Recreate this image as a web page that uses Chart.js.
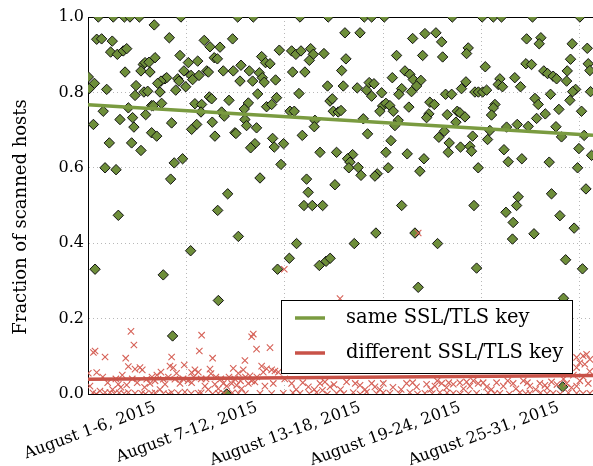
<!DOCTYPE html>
<html>
<head>
<meta charset="utf-8">
<script src="https://cdn.jsdelivr.net/npm/chart.js@4.4.1/dist/chart.umd.min.js"></script>
<style>
	body { margin: 0; background: #fff; }
	#wrap { width: 593px; height: 466px; }
</style>
</head>
<body>
<div id="wrap"><canvas id="myChart" width="593" height="466"></canvas></div>
<script>

// [day of August (0 = start of Aug 1), fraction]
const same_key_points = [
	[0.63,1.0],[1.54,1.0],[2.22,1.0],[2.56,1.0],[3.13,1.0],[5.67,1.0],
	[4.04,0.979],[0.53,0.941],[0.83,0.942],[1.48,0.936],[4.96,0.945],[7.09,0.938],[7.44,0.921],[8.05,0.92],[8.82,0.942],
	[1.38,0.907],[1.79,0.901],[2.15,0.91],[2.36,0.916],[5.61,0.898],[4.09,0.892],[3.37,0.874],[3.48,0.879],[3.72,0.88],[6.12,0.879],[6.69,0.883],[7.7,0.892],[7.89,0.889],
	[2.26,0.854],[3.23,0.857],[3.78,0.854],[5.85,0.857],[0.02,0.841],[4.7,0.836],[4.8,0.839],[4.45,0.83],[5.47,0.836],[5.55,0.83],[6.28,0.845],[6.38,0.834],[6.77,0.845],[7.24,0.857],[7.34,0.854],[8.25,0.857],[8.86,0.857],
	[0.39,0.824],[2.93,0.818],[4.25,0.824],[5.96,0.815],[0.08,0.81],[1.14,0.808],[3.41,0.801],[3.64,0.803],[4.39,0.801],[5.35,0.806],[2.87,0.792],[7.4,0.788],[7.54,0.783],
	[6.52,0.77],[6.93,0.768],[4.49,0.771],[3.88,0.765],[3.98,0.765],[8.6,0.779],[0.93,0.75],[2.46,0.759],[3.52,0.741],[2.72,0.733],[6.89,0.748],[8.15,0.748],[8.31,0.737],
	[1.95,0.728],[5.1,0.719],[0.33,0.715],[2.8,0.708],[6.63,0.715],[6.32,0.702],[7.58,0.721],[3.88,0.693],[4.19,0.684],[7.74,0.684],[8.96,0.693],
	[1.3,0.666],[2.66,0.666],[3.23,0.646],[1.04,0.6],[1.71,0.595],[5.26,0.613],[5.77,0.624],[5.04,0.57],[8.52,0.531],
	[9.13,1.0],[10.08,1.0],[12.93,1.0],[14.65,1.0],[16.85,1.0],[17.3,1.0],[18.07,1.0],
	[15.67,0.958],[16.59,0.958],[11.67,0.912],[12.42,0.91],[12.68,0.901],[12.99,0.91],[13.58,0.916],[13.74,0.901],[13.5,0.885],[14.39,0.903],[10.59,0.895],[10.83,0.879],[11.1,0.876],[15.73,0.889],[18.82,0.898],[9.33,0.872],
	[9.84,0.857],[10.45,0.852],[10.63,0.839],[10.75,0.827],[10.04,0.83],[9.27,0.83],[11.44,0.833],[12.48,0.854],[13.23,0.854],[15.47,0.858],[18.56,0.839],[19.33,0.857],
	[14.61,0.817],[15.57,0.817],[16.42,0.812],[16.99,0.806],[17.15,0.826],[17.44,0.823],[17.3,0.79],[17.91,0.799],[10.35,0.796],[12.87,0.797],[19.13,0.81],[18.96,0.795],
	[9.78,0.772],[9.53,0.756],[10.89,0.762],[11.2,0.768],[11.5,0.786],[12.32,0.75],[12.58,0.75],[14.76,0.777],[14.9,0.783],[14.96,0.75],[15.26,0.748],[15.43,0.752],[17.97,0.764],[18.17,0.771],[18.41,0.765],[17.8,0.75],[18.62,0.75],
	[9.57,0.728],[9.67,0.712],[10.28,0.706],[13.84,0.726],[13.8,0.709],[16.79,0.73],[18.92,0.726],[18.72,0.712],[9.02,0.691],[13.07,0.686],[17.05,0.69],
	[11.26,0.678],[11.36,0.655],[10.18,0.664],[9.92,0.653],[11.93,0.664],[18.48,0.672],[14.15,0.641],[15.16,0.641],[16.14,0.635],[15.83,0.624],[15.98,0.615],[18.17,0.641],[11.77,0.609],
	[15.91,0.6],[16.48,0.601],[16.65,0.58],[18.31,0.6],[17.64,0.584],[17.5,0.578],[10.49,0.573],[13.33,0.57],[13.43,0.535],[15.06,0.555],
	[22.22,1.0],[24.04,1.0],[24.72,1.0],[25.22,1.0],[27.11,1.0],[30.0,1.0],
	[19.8,0.943],[20.55,0.956],[21.22,0.958],[21.57,0.934],[20.41,0.898],[21.63,0.894],[23.19,0.918],[23.09,0.903],[26.75,0.942],[27.62,0.945],[27.52,0.929],[29.53,0.929],[30.45,0.917],[29.43,0.888],
	[24.23,0.868],[26.71,0.876],[27.05,0.874],[30.51,0.876],[30.61,0.858],[19.63,0.848],[19.84,0.834],[20.3,0.832],[20.04,0.817],[19.73,0.802],[23.05,0.828],[22.78,0.81],[25.12,0.836],[25.02,0.821],[25.28,0.815],[26.03,0.839],[26.38,0.815],
	[27.8,0.857],[28.03,0.85],[28.37,0.843],[28.58,0.836],[29.23,0.857],[29.19,0.83],[21.81,0.795],[22.18,0.795],[23.6,0.801],[23.81,0.801],[24.07,0.801],[24.31,0.806],[27.26,0.784],[27.46,0.768],[28.21,0.795],[29.74,0.808],[29.56,0.802],[29.39,0.779],[30.65,0.802],
	[19.57,0.761],[20.85,0.774],[21.12,0.768],[20.79,0.743],[20.65,0.733],[21.91,0.741],[22.52,0.75],[22.68,0.746],[22.99,0.735],[24.82,0.768],[24.72,0.759],[24.61,0.74],[27.89,0.743],[27.36,0.731],[28.72,0.755],[30.1,0.75],
	[22.44,0.721],[26.18,0.715],[26.85,0.71],[25.53,0.708],[24.51,0.699],[28.54,0.709],[21.73,0.697],[21.4,0.681],[23.46,0.684],[28.88,0.682],[30.26,0.686],
	[22.03,0.666],[22.72,0.655],[23.29,0.657],[23.39,0.644],[21.97,0.641],[24.37,0.675],[25.37,0.648],[29.94,0.651],[19.47,0.637],[20.49,0.624],[25.63,0.616],[26.46,0.624],[28.13,0.615],[30.71,0.633],
	[20.24,0.591],[23.8,0.6],[29.86,0.6],[30.37,0.544],[26.24,0.523],[28.27,0.531],
	[1.85,0.474],[7.91,0.487],[0.43,0.331],[4.59,0.316],[6.26,0.38],[7.95,0.248],[5.16,0.154],[8.46,0.0],
	[13.17,0.5],[13.68,0.5],[14.31,0.5],[19.13,0.5],[9.17,0.418],[12.72,0.399],[16.24,0.399],[17.56,0.427],[12.28,0.36],[11.56,0.331],[14.11,0.341],[14.52,0.352],[14.77,0.36],
	[23.54,0.5],[25.49,0.482],[26.14,0.5],[25.93,0.455],[28.78,0.473],[29.65,0.44],[19.94,0.427],[21.32,0.399],[25.89,0.411],[27.2,0.425],[29.13,0.356],[30.16,0.332],[23.7,0.334],[20.14,0.283],[29.0,0.254],[28.95,0.019]
];

const diff_key_points = [
	[2.62,0.166],[2.8,0.13],[0.43,0.114],[0.33,0.11],[1.04,0.098],[2.3,0.095],[6.93,0.156],[9.98,0.152],[6.79,0.114],[7.6,0.095],[5.1,0.098],[9.57,0.089],
	[0.53,0.057],[0.02,0.055],[2.46,0.073],[2.87,0.066],[3.17,0.07],[3.31,0.064],[2.09,0.05],[4.45,0.058],[5.0,0.074],[5.2,0.07],[5.87,0.077],[6.52,0.064],[6.32,0.057],[6.73,0.058],[7.44,0.066],[7.5,0.054],[8.86,0.068],[9.47,0.064],[9.17,0.055],
	[3.58,0.039],[3.78,0.028],[4.09,0.035],[4.59,0.039],[4.7,0.026],[4.39,0.012],[5.3,0.039],[5.61,0.028],[6.32,0.03],[1.85,0.026],[2.36,0.024],[0.12,0.021],[7.13,0.021],[7.74,0.026],[7.95,0.014],[8.25,0.028],[8.46,0.021],[8.76,0.028],[9.07,0.023],[9.37,0.014],[9.78,0.028],[9.98,0.035],
	[0.73,0.008],[1.34,0.004],[1.04,0.004],[2.46,0.004],[2.87,0.002],[3.27,0.002],[3.88,0.002],[5.1,0.004],[5.51,0.002],[5.91,0.005],[6.73,0.002],[7.34,0.012],[7.95,0.002],[9.17,0.002],
	[0.9,0.045],[1.2,0.03],[1.5,0.012],[1.7,0.04],[2.0,0.018],[2.7,0.04],[3.0,0.03],[3.45,0.018],[3.9,0.045],[4.2,0.05],[4.9,0.045],[5.4,0.055],[5.8,0.04],[6.1,0.035],[6.45,0.045],[6.9,0.04],[7.2,0.04],[7.8,0.045],[8.1,0.04],[8.6,0.045],[8.95,0.04],[9.3,0.035],[9.6,0.045],
	[0.3,0.003],[0.5,0.0],[1.6,0.001],[1.9,0.003],[2.2,0.001],[3.5,0.0],[4.1,0.003],[4.6,0.001],[4.9,0.0],[6.3,0.001],[6.9,0.003],[7.6,0.0],[8.3,0.001],[8.8,0.003],[9.6,0.001],
	[10.08,0.159],[10.28,0.119],[11.1,0.123],[10.59,0.074],[10.89,0.067],[11.2,0.064],[11.4,0.061],[11.61,0.058],[10.69,0.058],[9.88,0.048],[10.18,0.032],[11.3,0.028],[10.79,0.021],[12.42,0.028],[13.44,0.019],[14.15,0.028],[14.45,0.032],[14.76,0.019],[15.77,0.032],[16.59,0.023],[17.3,0.028],[17.5,0.019],[18.01,0.028],[19.43,0.028],[20.04,0.019],
	[10.49,0.002],[11.91,0.002],[12.93,0.002],[13.94,0.004],[15.16,0.002],[16.18,0.004],[16.99,0.005],[18.41,0.002],[19.63,0.004],[15.37,0.253],[11.97,0.331],[20.14,0.427],
	[10.3,0.045],[12.0,0.04],[12.7,0.012],[13.1,0.03],[13.8,0.012],[14.3,0.01],[15.0,0.025],[15.4,0.012],[16.3,0.028],[16.9,0.012],[17.8,0.012],[18.6,0.018],[19.1,0.012],[19.8,0.03],
	[11.2,0.001],[12.5,0.003],[13.5,0.001],[14.6,0.0],[15.6,0.001],[16.6,0.0],[17.6,0.001],[18.0,0.003],[19.0,0.001],[20.1,0.0],
	[29.8,0.097],[30.2,0.101],[30.41,0.105],[30.0,0.083],[30.61,0.092],[29.8,0.07],[30.3,0.079],
	[20.65,0.026],[21.16,0.021],[21.57,0.028],[21.87,0.017],[22.28,0.026],[22.68,0.03],[23.09,0.032],[23.29,0.021],[23.8,0.028],[24.31,0.019],[24.92,0.03],[25.33,0.021],[25.93,0.028],[26.55,0.035],[26.95,0.021],[27.56,0.028],[27.87,0.023],[28.27,0.032],[29.19,0.028],[29.49,0.017],[30.0,0.035],[30.51,0.028],[29.8,0.021],
	[20.55,0.002],[21.46,0.004],[22.28,0.002],[23.7,0.002],[25.12,0.002],[26.34,0.004],[26.95,0.002],[28.37,0.002],[29.8,0.002],[30.61,0.002],
	[20.9,0.012],[21.3,0.035],[22.0,0.03],[22.9,0.014],[23.5,0.035],[24.1,0.03],[24.6,0.012],[25.6,0.035],[26.1,0.014],[26.8,0.03],[27.3,0.012],[28.0,0.016],[28.6,0.025],[29.0,0.04],[30.2,0.045],[30.6,0.06],[29.6,0.05],
	[21.0,0.001],[21.9,0.003],[22.7,0.0],[23.2,0.001],[24.4,0.003],[24.8,0.001],[25.7,0.0],[26.7,0.001],[27.6,0.003],[28.0,0.001],[28.8,0.0],[29.3,0.003],[30.2,0.001]
];

// linear fits, ends of the visible range
const trend_days = [0, 30.8];
const same_trend = [0.767, 0.686];
const diff_trend = [0.039, 0.049];

const grid_days = [6, 12, 18, 24, 30];
const label_days = [4.1, 10.3, 16.6, 22.7, 28.7];
const tick_labels = ['August 1-6, 2015', 'August 7-12, 2015', 'August 13-18, 2015', 'August 19-24, 2015', 'August 25-31, 2015'];
const y_ticks = [0, 0.2, 0.4, 0.6, 0.8, 1.0];

const series_names = ['same SSL/TLS key', 'different SSL/TLS key'];
const y_title = 'Fraction of scanned hosts';


function toXY(points)
{
	return points.map((item) => ({'x': item[0], 'y': item[1]}));
}


function trendXY(values)
{
	return trend_days.map((day, i) => ({'x': day, 'y': values[i]}));
}


// matplotlib style legend box in the lower right of the axes
const box_legend = {
	id: 'boxLegend',
	afterDraw(chart)
	{
		const ctx = chart.ctx;
		const area = chart.chartArea;
		const items = chart.data.datasets.filter((d) => d.inBox);

		const box_w = 291;
		const box_h = 73;
		const left = area.right - 21 - box_w;
		const top = area.bottom - 21 - box_h;

		ctx.save();
		ctx.fillStyle = '#ffffff';
		ctx.fillRect(left, top, box_w, box_h);
		ctx.strokeStyle = '#000000';
		ctx.lineWidth = 1;
		ctx.strokeRect(left + 0.5, top + 0.5, box_w, box_h);

		items.forEach((item, i) =>
		{
			const y = top + 18 + i * 35;
			ctx.strokeStyle = item.borderColor;
			ctx.lineWidth = item.borderWidth;
			ctx.beginPath();
			ctx.moveTo(left + 14, y);
			ctx.lineTo(left + 44, y);
			ctx.stroke();

			ctx.fillStyle = '#000000';
			ctx.font = '19.5px "DejaVu Serif"';
			ctx.textBaseline = 'middle';
			ctx.textAlign = 'left';
			ctx.fillText(item.label, left + 65, y);
		});
		ctx.restore();
	}
};


window.onload = function()
{
	Chart.defaults.font.family = '"DejaVu Serif", serif';
	Chart.defaults.color = '#000000';

	const canvas = document.getElementById('myChart').getContext('2d');
	const x_max = 30.8;
	const grid_color = '#b8b8b8';

	new Chart(canvas, {
		type: 'scatter',
		data: {
			datasets: [
				{
					label: series_names[0],
					inBox: true,
					data: trendXY(same_trend),
					showLine: true,
					borderColor: 'rgb(122,155,64)',
					borderWidth: 3.5,
					pointRadius: 0,
				},
				{
					label: series_names[1],
					inBox: true,
					data: trendXY(diff_trend),
					showLine: true,
					borderColor: 'rgb(200,82,72)',
					borderWidth: 3.5,
					pointRadius: 0,
				},
				{
					label: series_names[1] + ' (hosts)',
					data: toXY(diff_key_points),
					pointStyle: 'crossRot',
					pointRadius: 4.5,
					borderWidth: 1.1,
					borderColor: 'rgb(214,98,88)',
					backgroundColor: 'rgb(214,98,88)',
				},
				{
					label: series_names[0] + ' (hosts)',
					data: toXY(same_key_points),
					pointStyle: 'rectRot',
					pointRadius: 5.2,
					borderWidth: 1,
					borderColor: '#111111',
					backgroundColor: 'rgb(110,142,58)',
				},
			],
		},
		options: {
			responsive: false,
			animation: false,
			devicePixelRatio: 1,
			layout: { autoPadding: false, padding: { top: 17, right: 0, bottom: 0, left: 0 } },
			plugins: {
				legend: { display: false },
				tooltip: { enabled: false },
			},
			events: [],
			scales: {
				x: {
					type: 'linear',
					position: 'bottom',
					min: 0,
					max: x_max,
					afterBuildTicks: (scale) => { scale.ticks = grid_days.map((v) => ({'value': v})); },
					ticks: { display: false },
					grid: { color: grid_color, lineWidth: 1, drawTicks: false },
					border: { color: '#000000', width: 1, dash: [1, 3] },
					afterFit: (scale) => { scale.height = 0; scale.paddingRight = 0; },
				},
				xlabels: {
					type: 'linear',
					position: 'bottom',
					min: 0,
					max: x_max,
					afterBuildTicks: (scale) => { scale.ticks = label_days.map((v) => ({'value': v})); },
					ticks: {
						autoSkip: false,
						minRotation: 20,
						maxRotation: 20,
						padding: 4,
						font: { size: 16 },
						callback: (value, index) => tick_labels[index],
					},
					grid: { display: false, drawTicks: false },
					border: { display: false },
					afterFit: (scale) => { scale.height = 72; scale.paddingRight = 0; },
				},
				xtop: {
					type: 'linear',
					position: 'top',
					min: 0,
					max: x_max,
					ticks: { display: false },
					grid: { display: false, drawTicks: false },
					border: { display: true, color: '#000000', width: 1 },
					afterFit: (scale) => { scale.height = 0; scale.paddingRight = 0; },
				},
				y: {
					min: 0,
					max: 1,
					afterBuildTicks: (scale) => { scale.ticks = y_ticks.map((v) => ({'value': v})); },
					ticks: {
						padding: 4,
						font: { size: 16 },
						callback: (value) => value.toFixed(1),
					},
					grid: { color: grid_color, lineWidth: 1, drawTicks: false },
					border: { color: '#000000', width: 1, dash: [1, 3] },
					title: {
						display: true,
						// trailing spaces push the centred label a little lower, as in the original
						text: y_title + '\u00a0\u00a0\u00a0\u00a0',
						font: { size: 18 },
						padding: { top: 11, bottom: 0 },
					},
					afterFit: (scale) => { scale.width = 88; },
				},
			},
		},
		plugins: [box_legend],
	});
}

</script>
</body>
</html>
